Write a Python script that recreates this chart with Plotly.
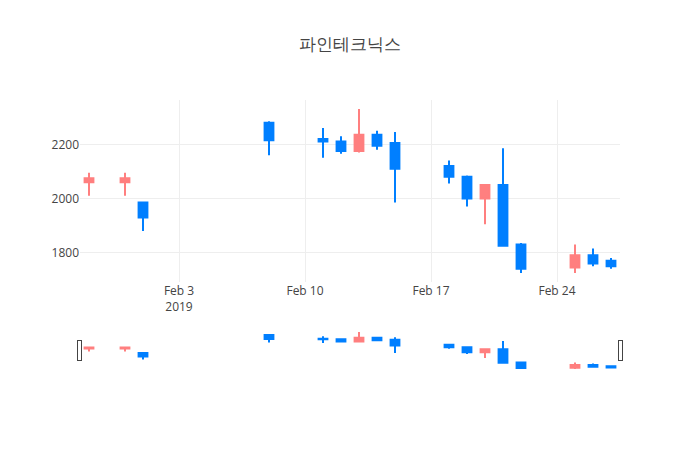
import plotly.graph_objects as go

dates = [
    "2019-01-29", "2019-01-31", "2019-02-01", "2019-02-08",
    "2019-02-11", "2019-02-12", "2019-02-13", "2019-02-14", "2019-02-15",
    "2019-02-18", "2019-02-19", "2019-02-20", "2019-02-21", "2019-02-22",
    "2019-02-25", "2019-02-26", "2019-02-27",
]
open_prices = [2060, 2060, 1985, 2280, 2220, 2210, 2175, 2235, 2205,
               2120, 2080, 2000, 2050, 1830, 1745, 1790, 1770]
high_prices = [2095, 2095, 1985, 2285, 2260, 2230, 2330, 2250, 2245,
               2140, 2085, 2050, 2185, 1835, 1830, 1815, 1780]
low_prices = [2010, 2010, 1880, 2160, 2150, 2165, 2170, 2180, 1985,
              2055, 1970, 1905, 1825, 1725, 1725, 1750, 1740]
close_prices = [2075, 2075, 1930, 2215, 2210, 2175, 2235, 2195, 2110,
                2080, 2000, 2050, 1825, 1740, 1790, 1760, 1750]

# korean convention: rising = red, falling = blue
fig = go.Figure(
    go.Candlestick(
        x=dates,
        open=open_prices,
        high=high_prices,
        low=low_prices,
        close=close_prices,
        increasing=dict(line=dict(color="#FF7F7F"), fillcolor="#FF7F7F"),
        decreasing=dict(line=dict(color="#007FFF"), fillcolor="#007FFF"),
    )
)
# page body has an 8px margin, so shrink the figure a bit to line up
fig.update_layout(
    template="none",
    title=dict(text="파인테크닉스", x=0.494, xanchor="center",
               y=0.918, yanchor="middle"),
    width=692,
    height=442,
    margin=dict(l=72, r=80, t=92, b=80),
    showlegend=False,
)
fig.write_html("out.html")
